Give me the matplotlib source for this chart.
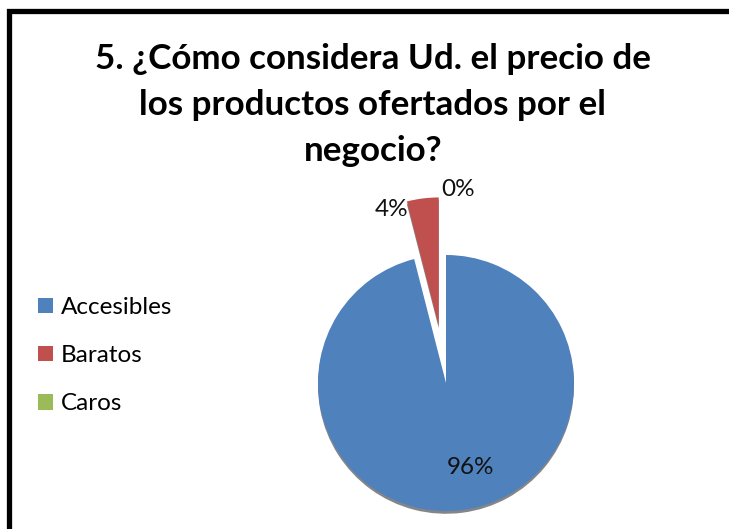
import matplotlib.pyplot as plt

# encuesta, pregunta 5
categorias = ["Accesibles", "Baratos", "Caros"]
valores = [96, 4, 0]
colores = ["#4F81BD", "#C0504D", "#9BBB59"]

W, H = 729, 529
fig = plt.figure(figsize=(W / 100, H / 100), dpi=100)
ax = fig.add_axes([0, 0, 1, 1])

wedges, _ = ax.pie(valores, colors=colores, startangle=90, counterclock=False,
                   center=(446, H - 383), radius=128, explode=[0, 58, 0],
                   wedgeprops=dict(linewidth=0),
                   shadow={"ox": 0, "oy": -2.0, "shade": 0.9})

# pie() cambia los limites, se fijan despues en pixeles
ax.set_xlim(0, W)
ax.set_ylim(0, H)
ax.set_aspect("equal")
ax.axis("off")

total = sum(valores)
pct = ["%.0f%%" % (v / total * 100) for v in valores]
posiciones = [(471, 468), (392, 210), (458, 189)]
for txt, (px, py) in zip(pct, posiciones):
    ax.text(px, H - py, txt, ha="center", va="center", fontsize=17.5,
            family="Lato", color="#111111")

ax.text(373, H - 105, "5. ¿Cómo considera Ud. el precio de\nlos productos ofertados por el\nnegocio?",
        ha="center", va="center", fontsize=25.2, fontweight="bold", family="Lato",
        linespacing=1.55)

leg = ax.legend(wedges, categorias, loc="upper left", bbox_to_anchor=(38 / W, 1 - 297 / H),
                frameon=False, borderpad=0, borderaxespad=0,
                handlelength=0.6, handleheight=0.6, handletextpad=0.33,
                labelspacing=1.12, prop={"family": "Lato", "size": 17.5})

# marco del grafico
ax.plot([9.5, 9.5, W + 5], [-5, H - 10.5, H - 10.5], color="black", lw=3.8,
        solid_joinstyle="miter", clip_on=False)

fig.savefig("out.png", dpi=100)
